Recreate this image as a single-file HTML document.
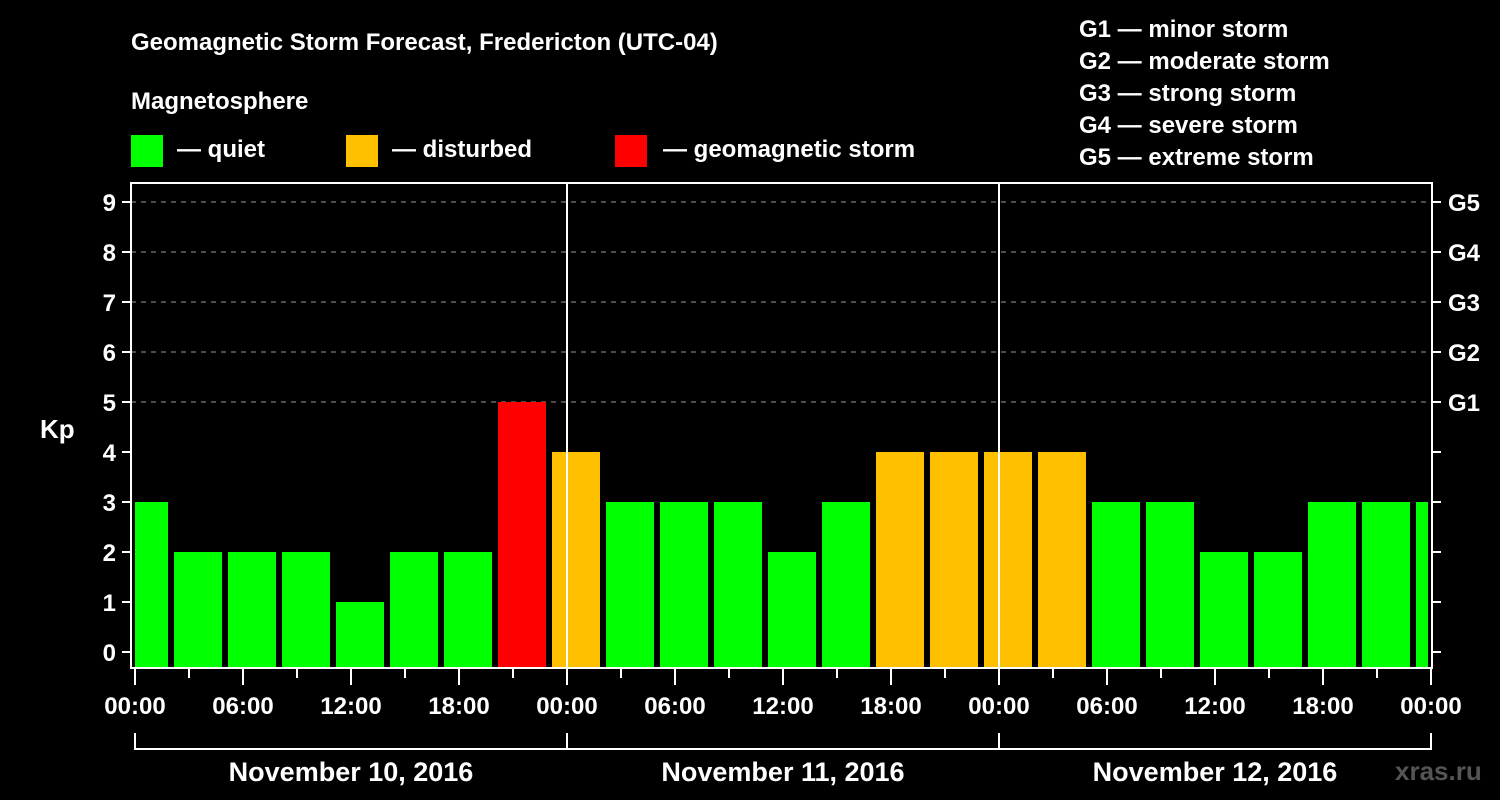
<!DOCTYPE html>
<html><head><meta charset="utf-8"><style>
html,body{margin:0;padding:0;background:#000;}
svg{display:block;font-family:"Liberation Sans",Arial,sans-serif;font-weight:bold;}
</style></head><body>
<svg id="chart" width="1500" height="800" viewBox="0 0 1500 800">
<rect x="0" y="0" width="1500" height="800" fill="#000"/>
<text x="131" y="50" fill="#fff" font-size="24">Geomagnetic Storm Forecast, Fredericton (UTC-04)</text>
<text x="131" y="109" fill="#fff" font-size="24">Magnetosphere</text>
<g><rect x="131" y="135" width="32" height="32" fill="#00ff00"/><text x="177" y="157" fill="#fff" font-size="24">— quiet</text></g>
<g><rect x="346" y="135" width="32" height="32" fill="#ffc000"/><text x="392" y="157" fill="#fff" font-size="24">— disturbed</text></g>
<g><rect x="615" y="135" width="32" height="32" fill="#ff0000"/><text x="663" y="157" fill="#fff" font-size="24">— geomagnetic storm</text></g>
<g fill="#fff" font-size="24">
<text x="1079" y="37">G1 — minor storm</text>
<text x="1079" y="69">G2 — moderate storm</text>
<text x="1079" y="101">G3 — strong storm</text>
<text x="1079" y="133">G4 — severe storm</text>
<text x="1079" y="165">G5 — extreme storm</text>
</g>
<text x="40" y="438" fill="#fff" font-size="26">Kp</text>
<text x="1395" y="780" fill="#555" font-size="26">xras.ru</text>
<defs><clipPath id="pc"><rect x="135" y="183" width="1293" height="485"/></clipPath></defs>
<g id="grid"></g>
<g id="bars" clip-path="url(#pc)"></g>
<g id="axes"></g>
</svg>
<script>
const kpValues = [3,2,2,2,1,2,2,5, 4,3,3,3,2,3,4,4, 4,4,3,3,2,2,3,3, 3];
const yTicks = [0,1,2,3,4,5,6,7,8,9];
const gLabels = ["G1","G2","G3","G4","G5"];
const gLevels = [5,6,7,8,9];
const xTickLabels = ["00:00","06:00","12:00","18:00","00:00","06:00","12:00","18:00","00:00","06:00","12:00","18:00","00:00"];
const dayLabels = ["November 10, 2016","November 11, 2016","November 12, 2016"];
const barStartHour = -1;
const barSpanHours = 3;

const NS="http://www.w3.org/2000/svg";
function x(h){return 135+18*h;}
function y(v){return 652-50*v;}
function mk(tag,attrs,parent){const e=document.createElementNS(NS,tag);for(const k in attrs)e.setAttribute(k,attrs[k]);parent.appendChild(e);return e;}
const grid=document.getElementById('grid'),bars=document.getElementById('bars'),axes=document.getElementById('axes');

gLevels.forEach((v,i)=>{
  const l=mk('line',{x1:131,x2:1432,y1:y(v),y2:y(v),stroke:'#999','stroke-width':1,'stroke-dasharray':'5,5'},grid);
  
  
  const t=mk('text',{x:1448,y:y(v)+9,fill:'#fff','font-size':24},axes);
  t.textContent=gLabels[i];
  
  
});

kpValues.forEach((v,i)=>{
  const s=barStartHour+barSpanHours*i;
  const c=v>=5?'#ff0000':(v>=4?'#ffc000':'#00ff00');
  const r=mk('rect',{x:x(s)+3,y:y(v),width:x(s+barSpanHours)-x(s)-6,height:668-y(v),fill:c},bars);
  
  
});

// frame
const f=mk('rect',{x:131,y:183,width:1301,height:485,fill:'none',stroke:'#fff','stroke-width':2},axes);


[24,48].forEach(h=>{
  const l=mk('line',{x1:x(h),x2:x(h),y1:183,y2:668,stroke:'#fff','stroke-width':2},axes);
  
  
});
yTicks.forEach(v=>{
  mk('line',{x1:122,x2:131,y1:y(v),y2:y(v),stroke:'#fff','stroke-width':2},axes);
  mk('line',{x1:1432,x2:1441,y1:y(v),y2:y(v),stroke:'#fff','stroke-width':2},axes);
  const t=mk('text',{x:116,y:y(v)+9,fill:'#fff','font-size':24,'text-anchor':'end'},axes);
  t.textContent=v;
  
  
});
for(let h=0;h<=72;h+=3){
  const major=h%6===0;
  mk('line',{x1:x(h),x2:x(h),y1:669,y2:major?685:678,stroke:'#fff','stroke-width':2},axes);
}
xTickLabels.forEach((lab,i)=>{
  const t=mk('text',{x:x(i*6),y:714,fill:'#fff','font-size':24,'text-anchor':'middle'},axes);
  t.textContent=lab;
  
  
});
mk('path',{d:`M${x(0)} 733 V749 H${x(72)} V733`,stroke:'#fff','stroke-width':2,fill:'none'},axes);
[24,48].forEach(h=>mk('line',{x1:x(h),x2:x(h),y1:733,y2:749,stroke:'#fff','stroke-width':2},axes));
dayLabels.forEach((d,i)=>{
  const t=mk('text',{x:x(i*24+12),y:781,fill:'#fff','font-size':27,'text-anchor':'middle'},axes);
  t.textContent=d;
  
  
});
</script>
</body></html>
